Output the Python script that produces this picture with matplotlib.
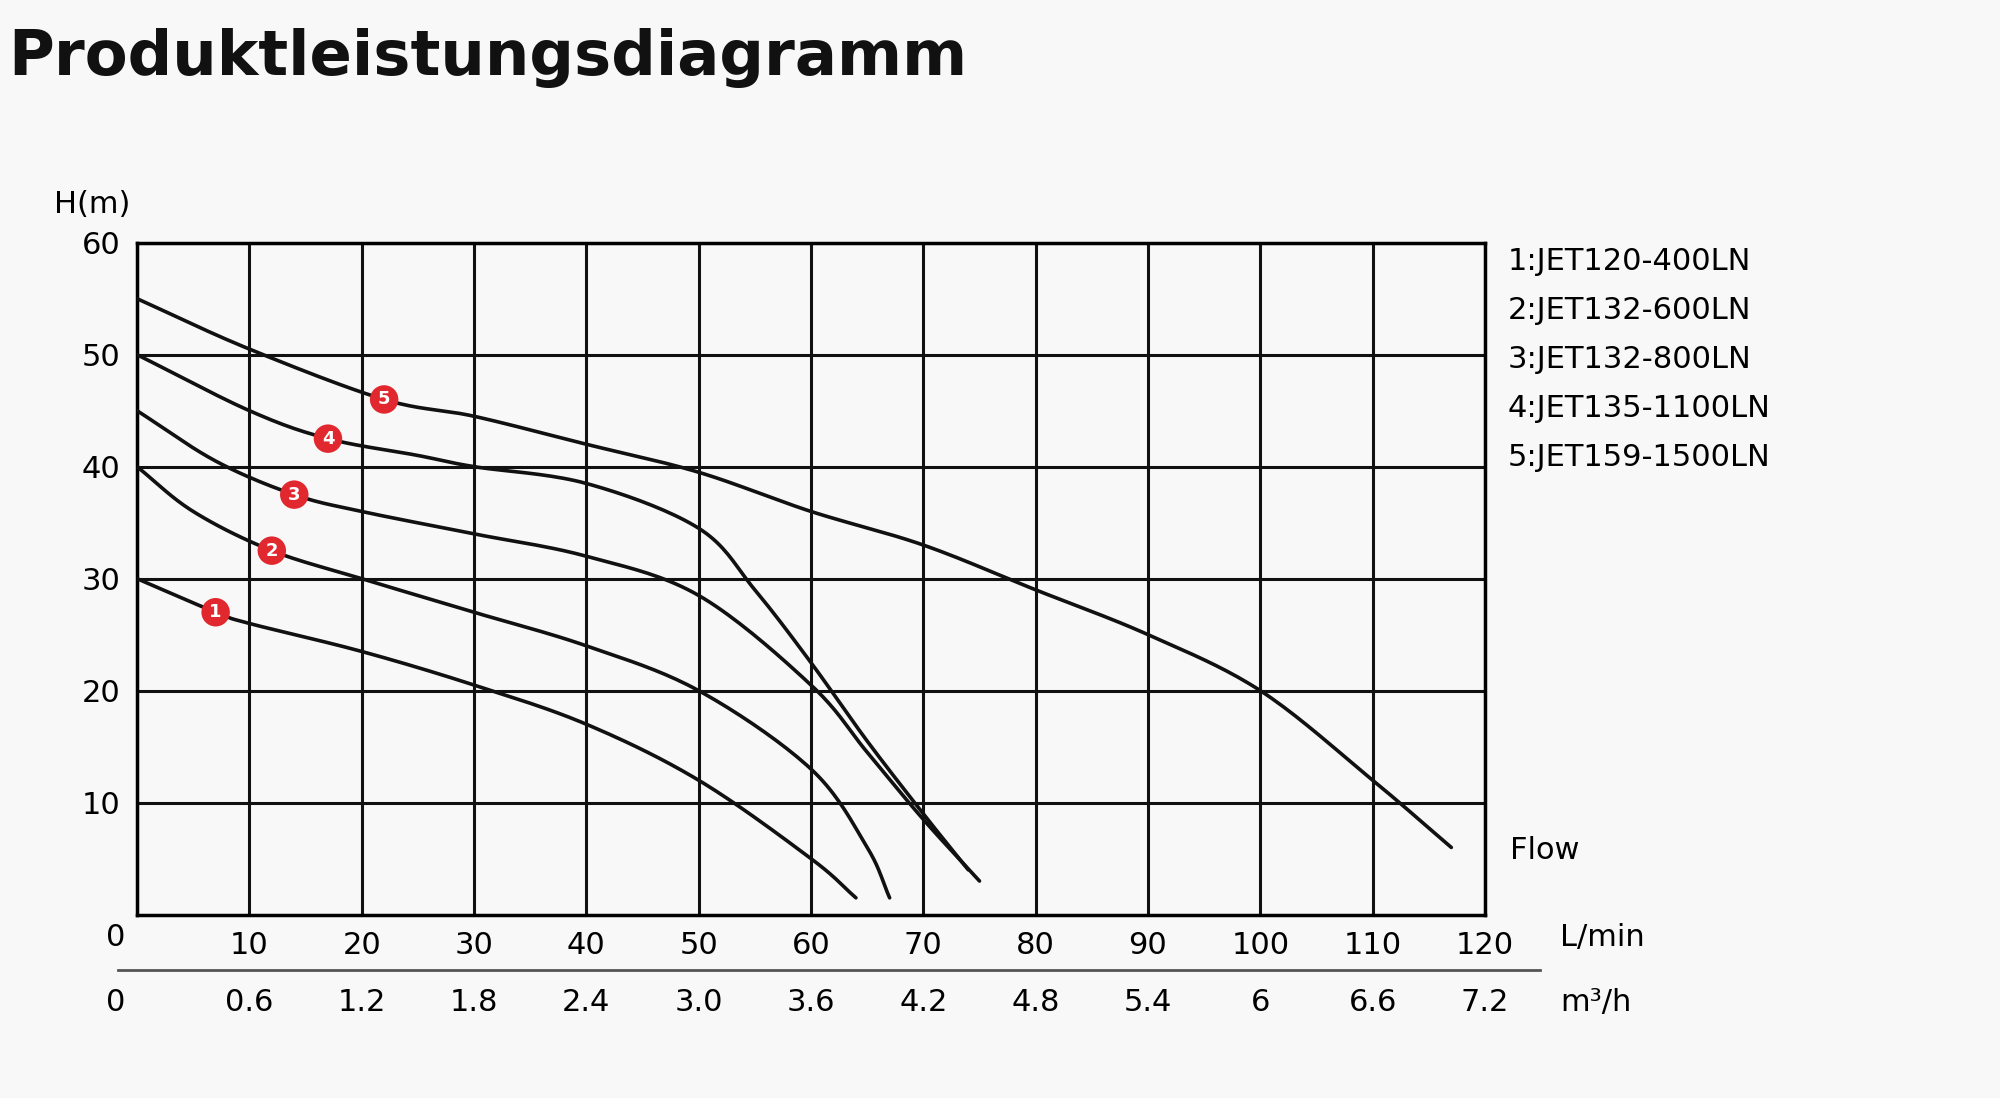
import matplotlib
matplotlib.use("Agg")
import matplotlib.pyplot as plt
import numpy as np

title = "Produktleistungsdiagramm"
models = ["1:JET120-400LN", "2:JET132-600LN", "3:JET132-800LN", "4:JET135-1100LN", "5:JET159-1500LN"]
c1_q = [0, 7, 10, 20, 30, 40, 50, 60, 64]
c1_h = [30, 27, 26, 23.5, 20.5, 17, 12, 5, 1.5]
c2_q = [0, 5, 12, 20, 30, 40, 50, 60, 65, 67]
c2_h = [40, 36, 32.5, 30, 27, 24, 20, 13, 6, 1.5]
c3_q = [0, 7, 14, 20, 30, 40, 50, 60, 65, 70, 75]
c3_h = [45, 40.5, 37.5, 36, 34, 32, 28.5, 20.5, 14.5, 8.5, 3]
c4_q = [0, 10, 17, 25, 30, 40, 50, 55, 60, 65, 70, 74]
c4_h = [50, 45, 42.5, 41, 40, 38.5, 34.5, 29, 22.5, 15.5, 9, 4]
c5_q = [0, 10, 22, 30, 40, 50, 60, 70, 80, 90, 100, 110, 117]
c5_h = [55, 50.5, 46, 44.5, 42, 39.5, 36, 33, 29, 25, 20, 12, 6]
marker_q = [7, 12, 14, 17, 22]
marker_h = [27, 32.5, 37.5, 42.5, 46]
lmin_ticks = [0, 10, 20, 30, 40, 50, 60, 70, 80, 90, 100, 110, 120]
m3h_labels = ["0", "0.6", "1.2", "1.8", "2.4", "3.0", "3.6", "4.2", "4.8", "5.4", "6", "6.6", "7.2"]
h_ticks = [10, 20, 30, 40, 50, 60]


def smooth(q, h, n=20):
    # Catmull-Rom rendering through the read points
    p = np.column_stack([q, h]).astype(float)
    p = np.vstack([2 * p[0] - p[1], p, 2 * p[-1] - p[-2]])
    out = []
    t = np.linspace(0, 1, n, endpoint=False)[:, None]
    for i in range(1, len(p) - 2):
        p0, p1, p2, p3 = p[i - 1], p[i], p[i + 1], p[i + 2]
        seg = 0.5 * ((2 * p1) + (-p0 + p2) * t + (2 * p0 - 5 * p1 + 4 * p2 - p3) * t**2
                     + (-p0 + 3 * p1 - 3 * p2 + p3) * t**3)
        out.append(seg)
    out.append(p[-2][None, :])
    out = np.vstack(out)
    return out[:, 0], out[:, 1]


bg = "#f8f8f8"
fig = plt.figure(figsize=(20, 10.98), dpi=100, facecolor=bg)
ax = fig.add_axes([0.0685, 0.167, 0.674, 0.612], facecolor=bg)
ax.set_xlim(0, 120)
ax.set_ylim(0, 60)
ax.set_xticks(lmin_ticks)
ax.set_yticks(h_ticks)
ax.grid(True, color="#111111", lw=2.2)
for s in ax.spines.values():
    s.set_linewidth(2.5)
ax.tick_params(length=0, labelsize=22, pad=12)
ax.set_xticklabels([""] + [str(t) for t in lmin_ticks[1:]])

for q, h in [(c1_q, c1_h), (c2_q, c2_h), (c3_q, c3_h), (c4_q, c4_h), (c5_q, c5_h)]:
    xs, ys = smooth(q, h)
    ax.plot(xs, ys, color="#111111", lw=2.6, solid_capstyle="round", zorder=3)
for i, (q, h) in enumerate(zip(marker_q, marker_h)):
    ax.scatter([q], [h], s=420, color="#e0282e", zorder=4, edgecolors="none")
    ax.text(q, h, str(i + 1), color="white", ha="center", va="center", fontsize=13, fontweight="bold", zorder=5)

fig.text(0.004, 0.947, title, fontsize=45, fontweight="bold", va="center", ha="left", color="#111111")
fig.text(0.027, 0.814, "H(m)", fontsize=22, ha="left", va="center")
fig.text(0.058, 0.146, "0", fontsize=22, ha="center", va="center")
fig.text(0.78, 0.146, "L/min", fontsize=22, ha="left", va="center")
fig.text(0.755, 0.225, "Flow", fontsize=22, ha="left", va="center")
line = plt.Line2D([0.059, 0.77], [0.117, 0.117], transform=fig.transFigure, color="#555555", lw=2)
fig.add_artist(line)
for t, lab in zip(lmin_ticks, m3h_labels):
    xf = 0.0685 + 0.674 * t / 120
    if t == 0:
        xf = 0.058
    fig.text(xf, 0.087, lab, fontsize=22, ha="center", va="center")
fig.text(0.78, 0.087, "m³/h", fontsize=22, ha="left", va="center")
for i, m in enumerate(models):
    fig.text(0.754, 0.762 - i * 0.0447, m, fontsize=22, ha="left", va="center")

fig.savefig("out.png", dpi=100, facecolor=bg)
